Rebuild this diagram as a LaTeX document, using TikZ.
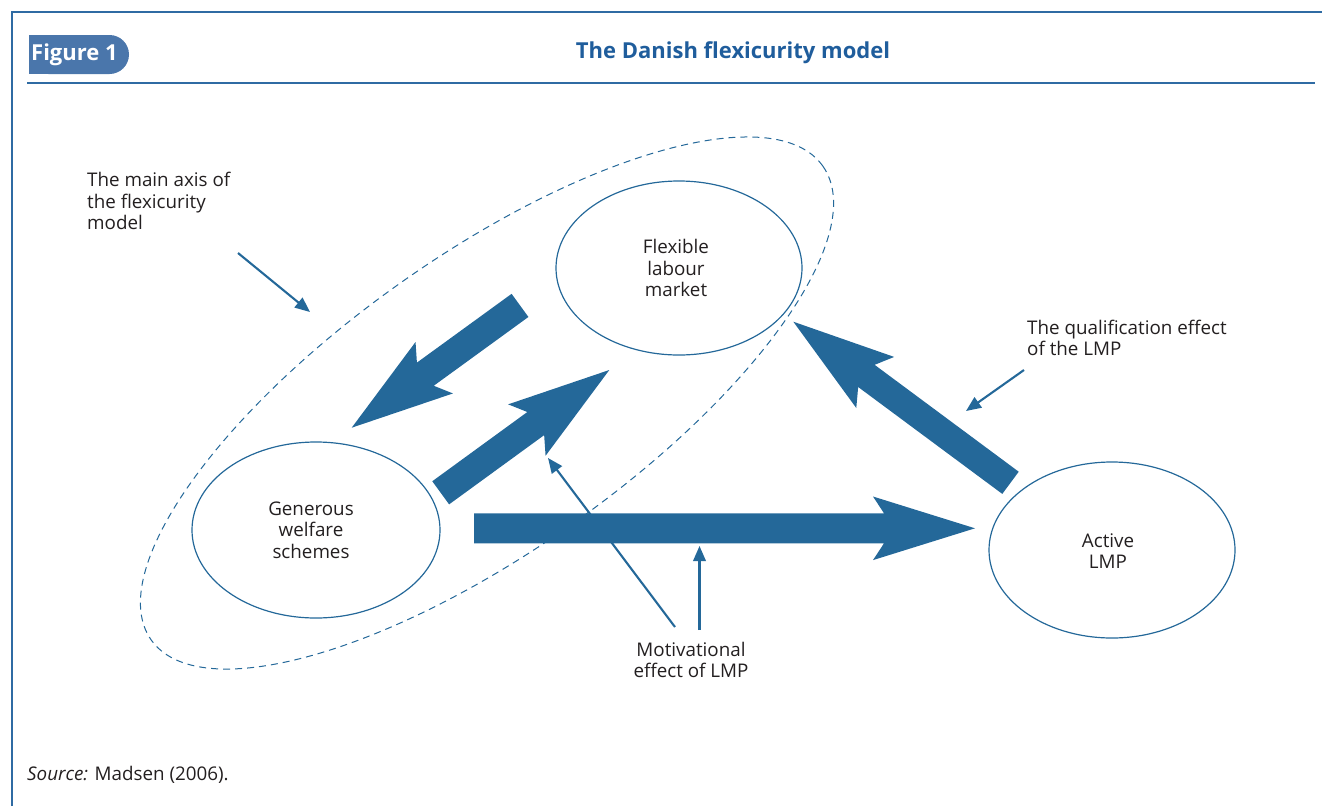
\documentclass[tikz,border=0pt]{standalone}
\usepackage{fontspec}
\setmainfont{Open Sans}
\usetikzlibrary{shapes.geometric,arrows.meta}
\definecolor{arrowblue}{HTML}{246899}
\definecolor{lineblue}{HTML}{2F6BA3}
\definecolor{tabblue}{HTML}{4A76AB}
\definecolor{titleblue}{HTML}{1F5D9C}
\definecolor{txt}{HTML}{231F20}
\newcommand\fatarrow[3]{%
  \pgfpointdiff{\pgfpointanchor{#1}{center}}{\pgfpointanchor{#2}{center}}%
  \pgfgetlastxy{\fadx}{\fady}%
  \pgfmathsetmacro\faang{atan2(\fady,\fadx)}%
  \pgfmathsetmacro\falen{veclen(\fadx,\fady)}%
  \fill[arrowblue, shift={(#1)}, rotate=\faang]
    (0,-#3) -- (\falen-91,-#3) -- (\falen-102,-31.8) -- (\falen,0)
    -- (\falen-102,31.8) -- (\falen-91,#3) -- (0,#3) -- cycle;
}
\begin{document}
\begin{tikzpicture}[x=1pt,y=-1pt,
  every node/.style={text=txt, font=\fontsize{18.8}{21.7}\selectfont, inner sep=0pt},
  ellip/.style={ellipse, draw=arrowblue, line width=1.2pt},
  frameline/.style={draw=lineblue, line width=1.6pt},
  thinarrow/.style={draw=arrowblue, line width=2.1pt, -{Triangle[length=15pt,width=12.5pt]}},
  lbl/.style={align=left}]
\useasboundingbox (0,0) rectangle (1322,806);
% frame
\draw[frameline] (12,806) -- (12,12) -- (1322,12);
\draw[frameline] (27,83) -- (1315,83);
% tab
\fill[tabblue, rounded corners=19.5pt] (29,35) rectangle (129,74);
\fill[tabblue] (29,35) rectangle (70,74);
\node[anchor=west, text=white, font=\fontsize{22}{24}\selectfont\bfseries] (fig) at (31,54.5) {Figure 1};
\node[text=titleblue, font=\fontsize{22}{24}\selectfont\bfseries] (title) at (733,53) {The Danish flexicurity model};
% main ellipses
\node[ellip, minimum width=246pt, minimum height=174pt] (flex) at (679,268) {};
\node[ellip, minimum width=248pt, minimum height=176pt] (gen) at (316,530) {};
\node[ellip, minimum width=246pt, minimum height=176pt] (act) at (1112,550) {};
\node[align=center] (flextxt) at (676,268) {Flexible\\labour\\market};
\node[align=center] (gentxt) at (311,530) {Generous\\welfare\\schemes};
\node[align=center] (acttxt) at (1108,551) {Active\\LMP};
% dashed axis ellipse
\node[ellipse, draw=arrowblue, line width=1pt, dash pattern=on 7pt off 5pt,
  minimum width=822pt, minimum height=296pt, rotate=35.2] (axis) at (487,403) {};
% fat arrows
\coordinate (f1s) at (520,305.4); \coordinate (f1e) at (351.7,427.7);
\coordinate (f2s) at (440.7,492.8); \coordinate (f2e) at (609.3,370);
\coordinate (f3s) at (1010.5,482.8); \coordinate (f3e) at (793.3,321.7);
\coordinate (f4s) at (474,528.3); \coordinate (f4e) at (975,528.3);
\fatarrow{f1s}{f1e}{14.3}
\fatarrow{f2s}{f2e}{14.3}
\fatarrow{f3s}{f3e}{13.8}
\fatarrow{f4s}{f4e}{15}
% labels
\node[lbl, anchor=west] (axislbl) at (87,201) {The main axis of\\the flexicurity\\model};
\node[lbl, anchor=west] (quallbl) at (1027,338) {The qualification effect\\of the LMP};
\node[align=center] (motlbl) at (691,660) {Motivational\\effect of LMP};
\node[anchor=west] (src) at (27,775) {{\itshape Source:} Madsen (2006).};
% thin arrows
\coordinate (a1s) at (238,253); \coordinate (a1e) at (310,312);
\coordinate (q1s) at (1024,370); \coordinate (q1e) at (966,411);
\coordinate (m1s) at (675,627); \coordinate (m1e) at (548,458);
\coordinate (m2s) at (699.5,630); \coordinate (m2e) at (699.5,546);
\draw[thinarrow] (a1s) -- (a1e);
\draw[thinarrow] (q1s) -- (q1e);
\draw[thinarrow] (m1s) -- (m1e);
\draw[thinarrow] (m2s) -- (m2e);
\end{tikzpicture}
\end{document}
